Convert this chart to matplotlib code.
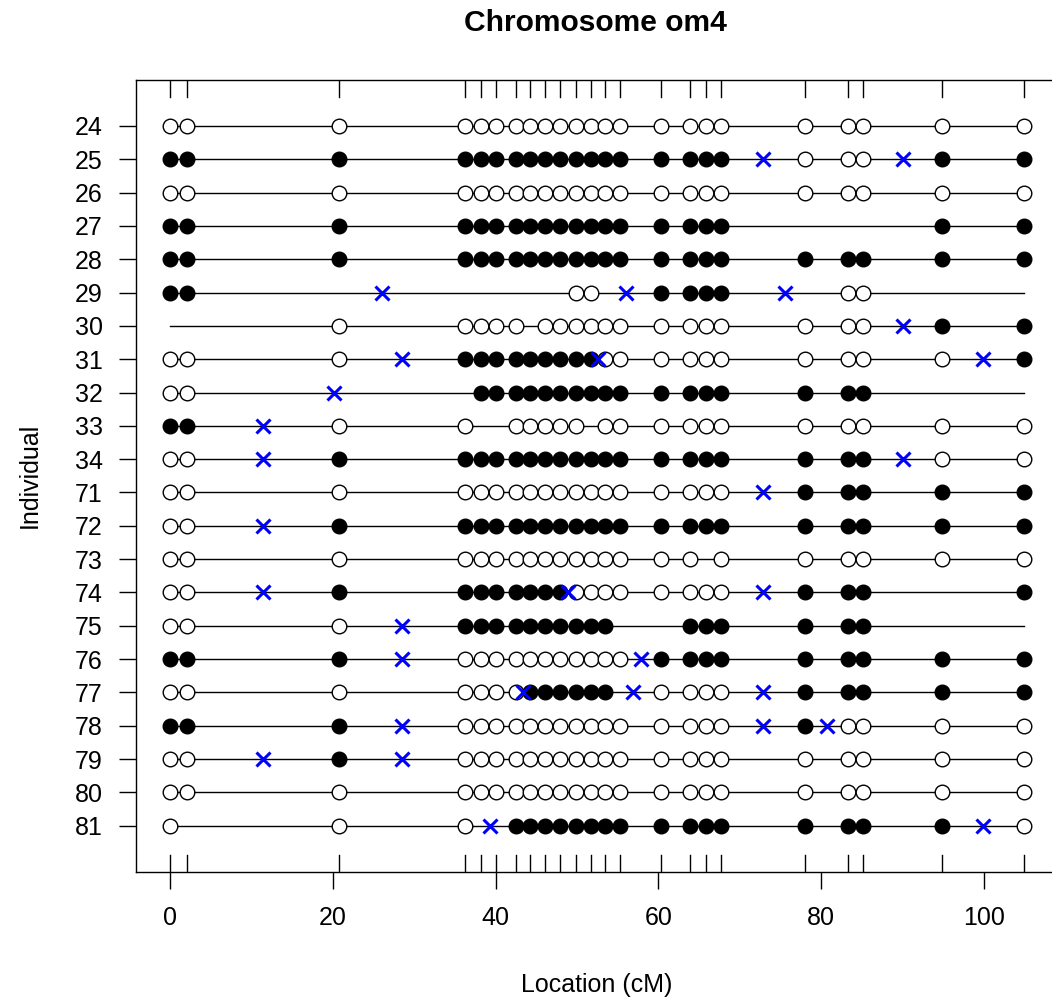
import numpy as np
import matplotlib
matplotlib.use("Agg")
import matplotlib.pyplot as plt

plt.rcParams['font.family'] = ['Liberation Sans', 'DejaVu Sans']

# marker positions on chromosome om4 (cM)
marker_pos = [0.0, 2.1, 20.8, 36.2, 38.2, 40.0, 42.5, 44.2, 46.1, 47.9, 49.9,
              51.7, 53.4, 55.3, 60.3, 63.9, 65.8, 67.7, 78.0, 83.3, 85.1, 94.9, 104.9]

individuals = ["24", "25", "26", "27", "28", "29", "30", "31", "32", "33", "34",
               "71", "72", "73", "74", "75", "76", "77", "78", "79", "80", "81"]

# genotypes: 0 = missing, 1 = AA (open), 2 = AB (filled)
geno = [
    [1] * 23,
    [2] * 18 + [1, 1, 1, 2, 2],
    [1] * 23,
    [2] * 18 + [0, 0, 0, 2, 2],
    [2] * 23,
    [2, 2] + [0] * 8 + [1, 1, 0, 0, 2, 2, 2, 2, 0, 1, 1, 0, 0],
    [0, 0, 1, 1, 1, 1, 1, 0, 1, 1, 1, 1, 1, 1, 1, 1, 1, 1, 1, 1, 1, 2, 2],
    [1, 1, 1] + [2] * 9 + [1, 1, 1, 1, 1, 1, 1, 1, 1, 1, 2],
    [1, 1, 0, 0] + [2] * 10 + [2, 2, 2, 2, 2, 2, 2, 0, 0],
    [2, 2, 1, 1, 0, 0, 1, 1, 1, 1, 1, 0, 1, 1, 1, 1, 1, 1, 1, 1, 1, 1, 1],
    [1, 1, 2] + [2] * 11 + [2, 2, 2, 2, 2, 2, 2, 1, 1],
    [1] * 18 + [2, 2, 2, 2, 2],
    [1, 1] + [2] * 21,
    [1] * 16 + [0, 1, 1, 1, 1, 1, 1],
    [1, 1, 2] + [2] * 7 + [1] * 4 + [1, 1, 1, 1, 2, 2, 2, 0, 2],
    [1, 1, 1] + [2] * 10 + [0, 0, 2, 2, 2, 2, 2, 2, 0, 0],
    [2, 2, 2] + [1] * 11 + [2, 2, 2, 2, 2, 2, 2, 2, 2],
    [1] * 7 + [2] * 6 + [0, 1, 1, 1, 1, 2, 2, 2, 2, 2],
    [2, 2, 2] + [1] * 11 + [1, 1, 1, 1, 2, 1, 1, 1, 1],
    [1, 1, 2] + [1] * 20,
    [1] * 23,
    [1, 0, 1, 1, 0, 0] + [2] * 8 + [2, 2, 2, 2, 2, 2, 2, 2, 1],
]

xticks = [0, 20, 40, 60, 80, 100]

pos = np.array(marker_pos)
n = len(individuals)
rows = np.arange(1, n + 1)

fig = plt.figure(figsize=(10.52, 9.97), dpi=100)
ax = fig.add_axes([0.1293, 0.1257, 0.8764, 0.7941])

span = pos.max() - pos.min()
ax.set_xlim(pos.min() - 0.04 * span, pos.max() + 0.04 * span)
ax.set_ylim(n + 0.5 + 0.04 * n, 0.5 - 0.04 * n)

for r, g in zip(rows, geno):
    g = np.array(g)
    ax.plot([pos[0], pos[-1]], [r, r], color='black', lw=1.0, zorder=1)
    aa = g == 1
    ab = g == 2
    ax.plot(pos[aa], np.full(aa.sum(), r), 'o', ms=10.5, mfc='white',
            mec='black', mew=1.0, zorder=2, linestyle='none')
    ax.plot(pos[ab], np.full(ab.sum(), r), 'o', ms=10.5, mfc='black',
            mec='black', mew=1.0, zorder=2, linestyle='none')
    # crossovers: midpoint between successive typed markers that differ
    typed = np.where(g > 0)[0]
    xo = [(pos[a] + pos[b]) / 2 for a, b in zip(typed[:-1], typed[1:]) if g[a] != g[b]]
    if xo:
        ax.plot(xo, np.full(len(xo), r), 'x', ms=10, mec='blue', mew=2.2,
                zorder=3, linestyle='none')

# marker ticks along top and bottom
y0, y1 = ax.get_ylim()
for p in pos:
    ax.plot([p, p], [y1, y1 + 0.5], color='black', lw=1.0, zorder=1)
    ax.plot([p, p], [y0 - 0.5, y0], color='black', lw=1.0, zorder=1)

ax.set_xticks(xticks)
ax.set_yticks(rows)
ax.set_yticklabels(individuals)
ax.tick_params(axis='both', labelsize=18, length=12, width=1.0, direction='out')
ax.tick_params(axis='x', pad=13)
ax.tick_params(axis='y', pad=12)
for s in ax.spines.values():
    s.set_linewidth(1.0)

ax.set_xlabel("Location (cM)", fontsize=18, labelpad=31)
ax.set_ylabel("Individual", fontsize=18, labelpad=24)
fig.text(0.566, 0.977, "Chromosome om4", fontsize=21.6, fontweight='bold',
         ha='center', va='center')

fig.savefig("out.png", dpi=100)
